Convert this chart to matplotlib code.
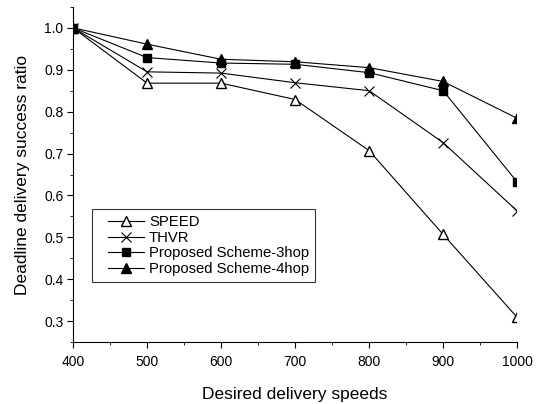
import matplotlib
matplotlib.use("Agg")
from matplotlib import pyplot as plt
from matplotlib.lines import Line2D
from matplotlib.legend_handler import HandlerLine2D
from matplotlib.patches import Rectangle
from matplotlib.ticker import MultipleLocator

plt.rcParams["font.family"] = ["Liberation Sans", "DejaVu Sans"]

speeds = [400, 500, 600, 700, 800, 900, 1000]
speed_ratio = [1.0, 0.868, 0.868, 0.829, 0.707, 0.507, 0.309]
thvr_ratio = [1.0, 0.895, 0.892, 0.869, 0.850, 0.726, 0.563]
hop3_ratio = [1.0, 0.929, 0.916, 0.913, 0.893, 0.850, 0.632]
hop4_ratio = [1.0, 0.961, 0.925, 0.919, 0.905, 0.872, 0.784]

fig = plt.figure(figsize=(5.41, 4.04), dpi=100)
ax = fig.add_axes([0.135, 0.153, 0.821, 0.830])

ax.plot(speeds, speed_ratio, color="black", lw=0.8, marker="^", mfc="white",
        mec="black", ms=6.5, label="SPEED")
ax.plot(speeds, thvr_ratio, color="black", lw=0.8, marker="x", mec="black",
        ms=7, mew=0.8, label="THVR")
ax.plot(speeds, hop3_ratio, color="black", lw=0.8, marker="s", mfc="black",
        ms=5.5, label="Proposed Scheme-3hop")
ax.plot(speeds, hop4_ratio, color="black", lw=0.8, marker="^", mfc="black",
        ms=6.5, label="Proposed Scheme-4hop")

# Markers are cut off at the axes edges in the original; mask them.
ax.set_axisbelow(False)
for x0 in (-0.02, 1.0):
    ax.add_patch(Rectangle((x0, -0.02), 0.02, 1.1, transform=ax.transAxes,
                           facecolor="white", edgecolor="none", clip_on=False,
                           zorder=2.2))

ax.set_xlim(400, 1000)
ax.set_ylim(0.25, 1.05)
ax.xaxis.set_major_locator(MultipleLocator(100))
ax.xaxis.set_minor_locator(MultipleLocator(50))
ax.yaxis.set_minor_locator(MultipleLocator(0.05))
yticks = [0.3, 0.4, 0.5, 0.6, 0.7, 0.8, 0.9, 1.0]
ax.set_yticks(yticks)
ax.set_yticklabels([f"{v:.1f}" for v in yticks])

ax.spines["top"].set_visible(False)
ax.spines["right"].set_visible(False)
ax.tick_params(axis="both", which="major", direction="out", length=4.5, labelsize=10)
ax.tick_params(axis="x", which="major", pad=5)
ax.tick_params(axis="y", which="major", pad=2.5)
ax.tick_params(axis="both", which="minor", direction="out", length=2.5)

ax.set_xlabel("Desired delivery speeds", fontsize=12.5, labelpad=13)
ax.set_ylabel("Deadline delivery success ratio", fontsize=12.5, labelpad=10)

leg = ax.legend(loc="upper left", bbox_to_anchor=(0.043, 0.397), fontsize=10.7,
                frameon=True, fancybox=False, edgecolor="black",
                handlelength=3.05, handletextpad=0.35, labelspacing=0.1,
                borderpad=0.42, borderaxespad=0,
                handler_map={Line2D: HandlerLine2D(xpad=0.65)})
leg.get_frame().set_linewidth(0.8)
leg.set_zorder(5)

fig.savefig("out.png", dpi=100)
